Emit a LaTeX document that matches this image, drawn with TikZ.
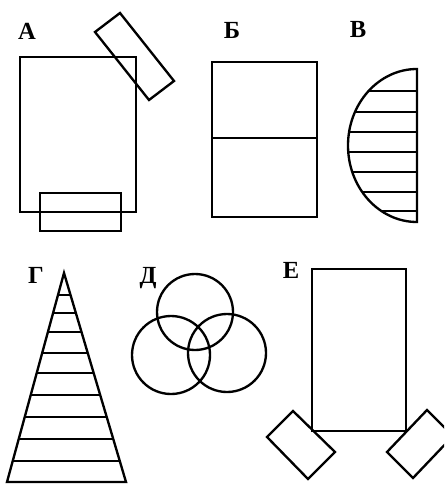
\documentclass[tikz,border=0pt]{standalone}
\usepackage{fontspec}
\setmainfont{Liberation Serif}
\tikzset{
  fig/.style={line width=2pt,line join=miter},
  hatch/.style={line width=1.6pt},
  lbl/.style={font=\fontsize{21}{23}\selectfont\bfseries,anchor=base,inner sep=0pt},
}

\begin{document}
\begin{tikzpicture}[x=0.03cm,y=-0.03cm]
  \useasboundingbox (0,0) rectangle (444,484);
  \clip (0,0) rectangle (444,484);

  % labels
  \node[lbl](la) at (27,40){А};
  \node[lbl](lb) at (232,39){Б};
  \node[lbl](lv) at (358,38){В};
  \node[lbl](lg) at (36,283){Г};
  \node[lbl](ld) at (148,283){Д};
  \node[lbl](le) at (291,278){Е};

  % A
  \draw[fig](20,57) rectangle (136,212);
  \draw[fig](40,193) rectangle (121,231);
  \draw[fig](95,32)--(120,13)--(174,81)--(149,100)--cycle;

  % B
  \draw[fig](212,62) rectangle (317,217);
  \draw[fig](212,138)--(317,138);

  % V
  \begin{scope}
    \clip (417,69) arc[start angle=-90,end angle=-270,x radius=69,y radius=76.5]--cycle;
    \foreach \y in {91,112,132,152,172,192,211}
      \draw[hatch](340,\y)--(420,\y);
  \end{scope}
  \draw[fig](417,69) arc[start angle=-90,end angle=-270,x radius=69,y radius=76.5]--cycle;

  % G
  \begin{scope}
    \clip (64,273)--(126,482)--(7,482)--cycle;
    \foreach \y in {295,313,332,353,373,395,417,439,461}
      \draw[hatch](0,\y)--(130,\y);
  \end{scope}
  \draw[fig](64,273)--(126,482)--(7,482)--cycle;

  % D
  \draw[fig](195,312) circle[radius=38];
  \draw[fig](171,355) circle[radius=39];
  \draw[fig](227,353) circle[radius=39];

  % E
  \draw[fig](312,269) rectangle (406,431);
  \draw[fig](267,437)--(293,411)--(335,452)--(308,479)--cycle;
  \draw[fig](387,452)--(427,410)--(453,436)--(413,478)--cycle;
\end{tikzpicture}
\end{document}
